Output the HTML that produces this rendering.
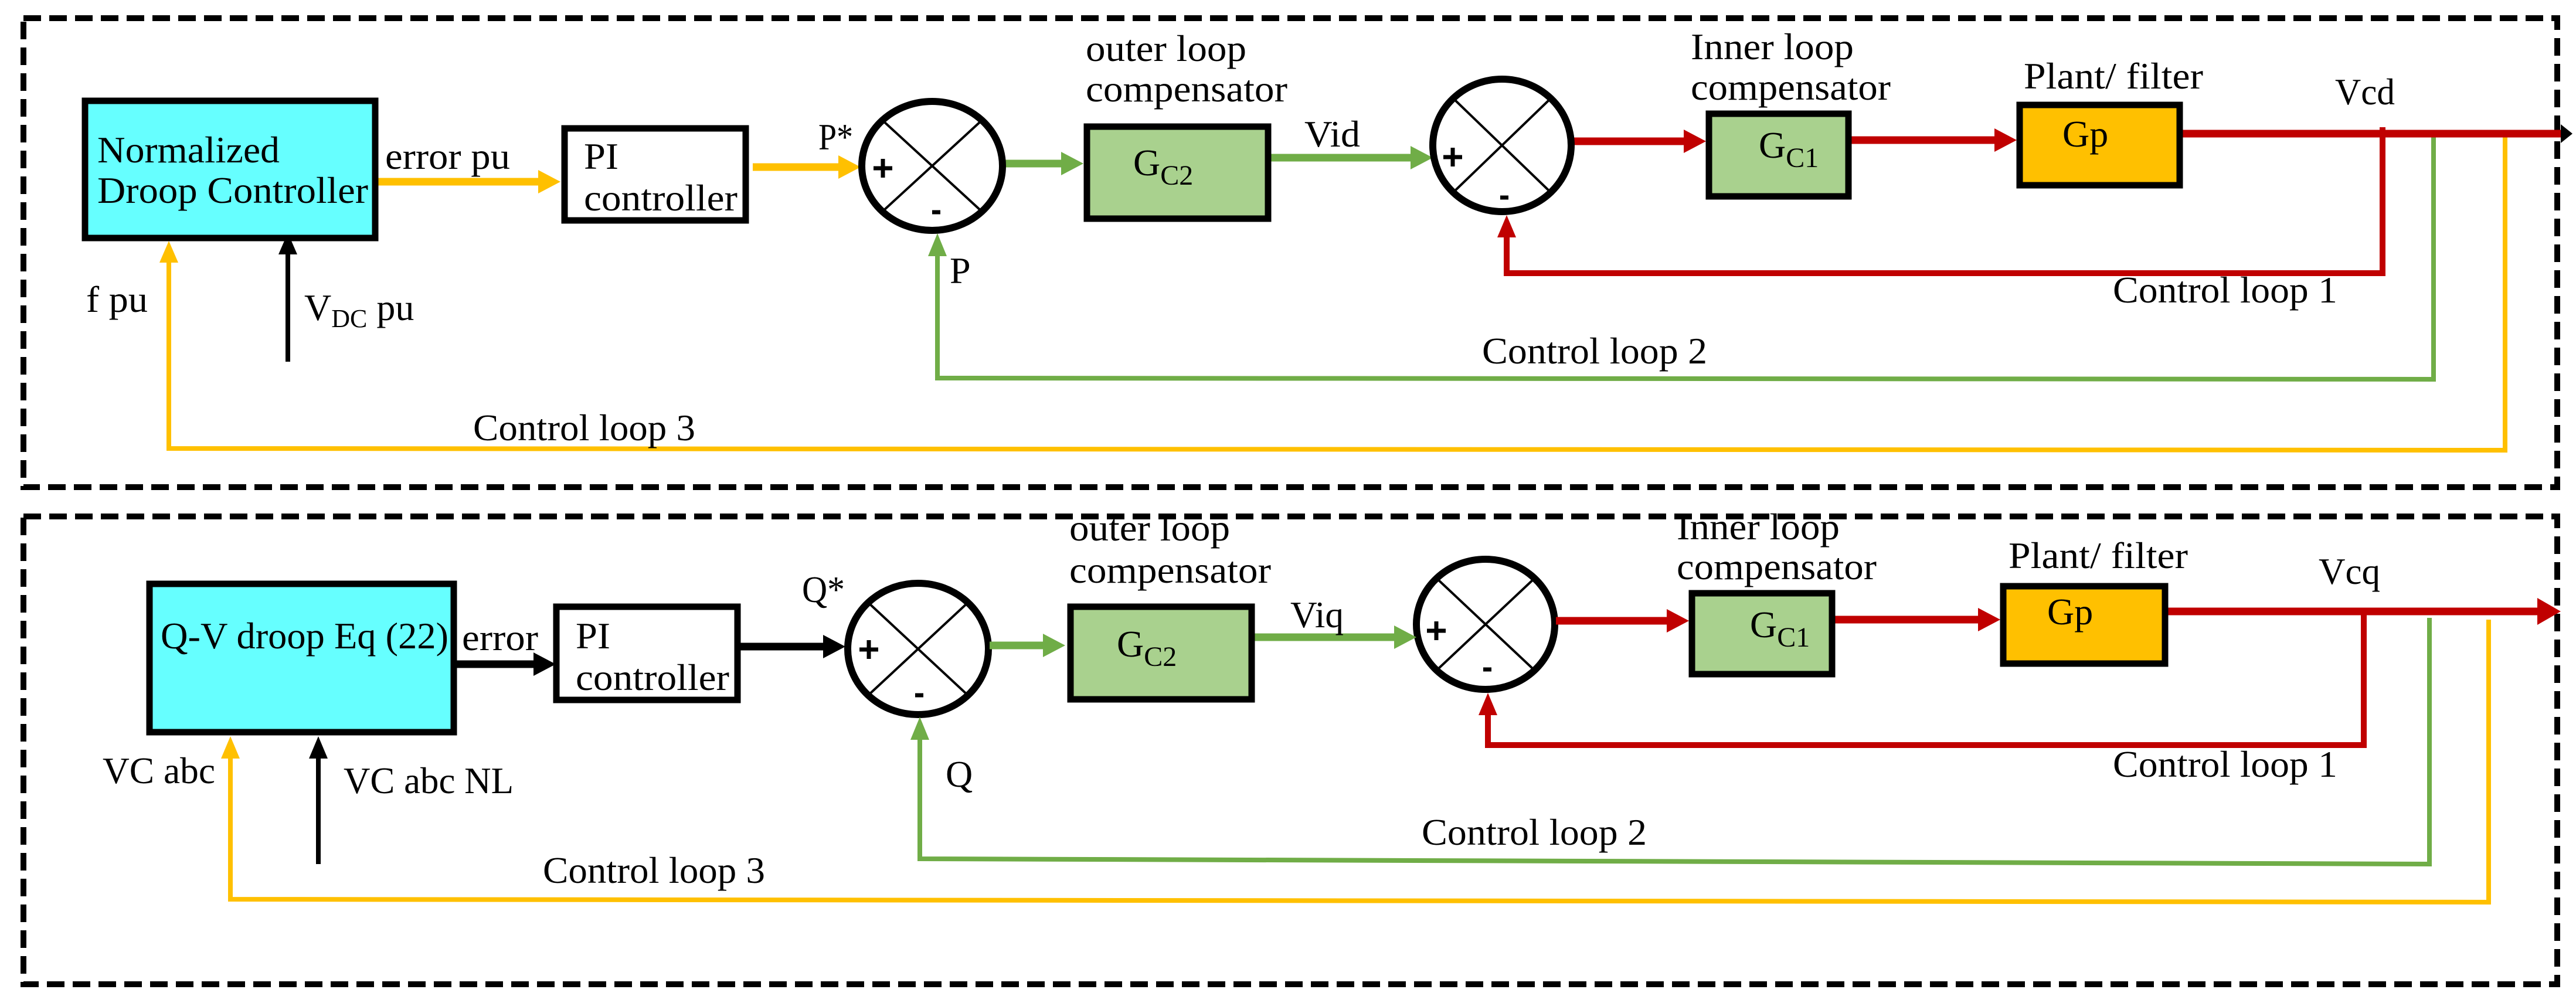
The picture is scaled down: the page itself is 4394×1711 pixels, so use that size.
<!DOCTYPE html>
<html><head><meta charset="utf-8"><style>html,body{margin:0;padding:0;background:#fff}svg{display:block}svg text{font-family:"Liberation Serif","DejaVu Serif","Times New Roman",serif;font-size:64px;fill:#000}</style></head>
<body>
<svg width="4394" height="1711" viewBox="0 0 4394 1711" xmlns="http://www.w3.org/2000/svg" font-family="Liberation Serif, DejaVu Serif, serif">
<g fill="none" stroke="#000" stroke-width="10" stroke-dasharray="30 14">
<rect x="40" y="31" width="4322" height="800"/>
<rect x="40" y="881" width="4322" height="798"/>
</g>

<g fill="none" stroke-linejoin="miter">
<polyline points="4064,217 4064,466 2570,466 2570,400" stroke="#C00000" stroke-width="10"/>
<polyline points="4151,228 4151,647 1599,645 1599,435" stroke="#70AD47" stroke-width="8"/>
<polyline points="4273,228 4273,768 288,765 288,440" stroke="#FFC000" stroke-width="8"/>
<line x1="491" y1="617" x2="491" y2="430" stroke="#000" stroke-width="8"/>
</g>
<polygon points="2570,367 2554,405 2586,405" fill="#C00000"/>
<polygon points="1599,398 1583,437 1615,437" fill="#70AD47"/>
<polygon points="288,411 272,448 304,448" fill="#FFC000"/>
<polygon points="491,397 475,434 507,434" fill="#000"/>

<line x1="645" y1="310" x2="920" y2="310" stroke="#FFC000" stroke-width="13"/>
<polygon points="956,310 918,290 918,330" fill="#FFC000"/>
<line x1="1284" y1="285" x2="1432" y2="285" stroke="#FFC000" stroke-width="13"/>
<polygon points="1468,285 1430,265 1430,305" fill="#FFC000"/>
<line x1="1712" y1="279" x2="1812" y2="279" stroke="#70AD47" stroke-width="13"/>
<polygon points="1848,279 1810,259 1810,299" fill="#70AD47"/>
<line x1="2168" y1="269" x2="2408" y2="269" stroke="#70AD47" stroke-width="13"/>
<polygon points="2444,269 2406,249 2406,289" fill="#70AD47"/>
<line x1="2682" y1="241" x2="2874" y2="241" stroke="#C00000" stroke-width="13"/>
<polygon points="2910,241 2872,221 2872,261" fill="#C00000"/>
<line x1="3158" y1="239" x2="3404" y2="239" stroke="#C00000" stroke-width="13"/>
<polygon points="3440,239 3402,219 3402,259" fill="#C00000"/>
<line x1="3723" y1="228" x2="4370" y2="228" stroke="#C00000" stroke-width="13"/>
<polygon points="4388,228 4368,212 4368,244" fill="#000"/>

<rect x="145" y="172" width="495" height="234" fill="#66FFFF" stroke="#000" stroke-width="11"/>
<rect x="963" y="219" width="309" height="157" fill="#fff" stroke="#000" stroke-width="11"/>
<rect x="1854" y="216" width="309" height="157" fill="#A9D18E" stroke="#000" stroke-width="11"/>
<rect x="2915" y="194" width="238" height="141" fill="#A9D18E" stroke="#000" stroke-width="11"/>
<rect x="3445" y="179" width="273" height="137" fill="#FFC000" stroke="#000" stroke-width="11"/>

<g fill="#fff" stroke="#000">
<ellipse cx="1590" cy="283" rx="120" ry="110" stroke-width="12"/>
<ellipse cx="2562" cy="248" rx="118" ry="113" stroke-width="12"/>
<ellipse cx="1566" cy="1107" rx="120" ry="112" stroke-width="12"/>
<ellipse cx="2534" cy="1065" rx="118" ry="111" stroke-width="12"/>
</g>
<g stroke="#000" stroke-width="4">
<line x1="1505" y1="205" x2="1675" y2="361"/><line x1="1675" y1="205" x2="1505" y2="361"/>
<line x1="2479" y1="168" x2="2645" y2="328"/><line x1="2645" y1="168" x2="2479" y2="328"/>
<line x1="1481" y1="1028" x2="1651" y2="1186"/><line x1="1651" y1="1028" x2="1481" y2="1186"/>
<line x1="2451" y1="987" x2="2617" y2="1143"/><line x1="2617" y1="987" x2="2451" y2="1143"/>
</g>
<!-- plus / minus signs as strokes -->
<g stroke="#000" stroke-width="7">
<line x1="1490" y1="287" x2="1522" y2="287"/><line x1="1506" y1="271" x2="1506" y2="303"/>
<line x1="1590" y1="362" x2="1604" y2="362"/>
<line x1="2462" y1="268" x2="2494" y2="268"/><line x1="2478" y1="252" x2="2478" y2="284"/>
<line x1="2559" y1="337" x2="2573" y2="337"/>
<line x1="1466" y1="1108" x2="1498" y2="1108"/><line x1="1482" y1="1092" x2="1482" y2="1124"/>
<line x1="1561" y1="1186" x2="1575" y2="1186"/>
<line x1="2434" y1="1076" x2="2466" y2="1076"/><line x1="2450" y1="1060" x2="2450" y2="1092"/>
<line x1="2530" y1="1142" x2="2544" y2="1142"/>
</g>

<text x="166" y="277" textLength="311" lengthAdjust="spacingAndGlyphs">Normalized</text>
<text x="166" y="346" textLength="462" lengthAdjust="spacingAndGlyphs">Droop Controller</text>
<text x="657" y="288" textLength="213" lengthAdjust="spacingAndGlyphs">error pu</text>
<text x="996" y="288" textLength="59" lengthAdjust="spacingAndGlyphs">PI</text>
<text x="996" y="359" textLength="262" lengthAdjust="spacingAndGlyphs">controller</text>
<text x="1396" y="255" textLength="59" lengthAdjust="spacingAndGlyphs">P*</text>
<text x="1852" y="104" textLength="274" lengthAdjust="spacingAndGlyphs">outer loop</text>
<text x="1852" y="173" textLength="344" lengthAdjust="spacingAndGlyphs">compensator</text>
<text x="1933" y="299" font-size="76">G<tspan font-size="48" dy="16">C2</tspan></text>
<text x="2225" y="250" textLength="95" lengthAdjust="spacingAndGlyphs">Vid</text>
<text x="2884" y="101" textLength="278" lengthAdjust="spacingAndGlyphs">Inner loop</text>
<text x="2884" y="170" textLength="341" lengthAdjust="spacingAndGlyphs">compensator</text>
<text x="3000" y="269" font-size="76">G<tspan font-size="48" dy="16">C1</tspan></text>
<text x="3452" y="151" textLength="306" lengthAdjust="spacingAndGlyphs">Plant/ filter</text>
<text x="3518" y="250" font-size="76">Gp</text>
<text x="3983" y="178" textLength="102" lengthAdjust="spacingAndGlyphs">Vcd</text>
<text x="1620" y="483">P</text>
<text x="519" y="546">V<tspan font-size="44" dy="12">DC</tspan><tspan dy="-12"> pu</tspan></text>
<text x="147" y="532" textLength="105" lengthAdjust="spacingAndGlyphs">f pu</text>
<text x="3604" y="516" textLength="383" lengthAdjust="spacingAndGlyphs">Control loop 1</text>
<text x="2528" y="620" textLength="384" lengthAdjust="spacingAndGlyphs">Control loop 2</text>
<text x="807" y="751" textLength="379" lengthAdjust="spacingAndGlyphs">Control loop 3</text>

<g fill="none">
<polyline points="4032,1043 4032,1271 2538,1271 2538,1215" stroke="#C00000" stroke-width="10"/>
<polyline points="4144,1054 4144,1474 1569,1465 1569,1258" stroke="#70AD47" stroke-width="8"/>
<polyline points="4245,1057 4245,1539 393,1534 393,1290" stroke="#FFC000" stroke-width="8"/>
<line x1="543" y1="1474" x2="543" y2="1290" stroke="#000" stroke-width="8"/>
</g>
<polygon points="2538,1182 2522,1220 2554,1220" fill="#C00000"/>
<polygon points="1569,1223 1553,1262 1585,1262" fill="#70AD47"/>
<polygon points="393,1256 377,1294 409,1294" fill="#FFC000"/>
<polygon points="543,1256 527,1294 559,1294" fill="#000"/>

<line x1="779" y1="1133" x2="912" y2="1133" stroke="#000" stroke-width="13"/>
<polygon points="948,1133 910,1113 910,1153" fill="#000"/>
<line x1="1263" y1="1103" x2="1406" y2="1103" stroke="#000" stroke-width="13"/>
<polygon points="1442,1103 1404,1083 1404,1123" fill="#000"/>
<line x1="1688" y1="1101" x2="1781" y2="1101" stroke="#70AD47" stroke-width="13"/>
<polygon points="1817,1101 1779,1081 1779,1121" fill="#70AD47"/>
<line x1="2140" y1="1087" x2="2380" y2="1087" stroke="#70AD47" stroke-width="13"/>
<polygon points="2416,1087 2378,1067 2378,1107" fill="#70AD47"/>
<line x1="2654" y1="1059" x2="2845" y2="1059" stroke="#C00000" stroke-width="13"/>
<polygon points="2881,1059 2843,1039 2843,1079" fill="#C00000"/>
<line x1="3130" y1="1057" x2="3376" y2="1057" stroke="#C00000" stroke-width="13"/>
<polygon points="3412,1057 3374,1037 3374,1077" fill="#C00000"/>
<line x1="3698" y1="1043" x2="4330" y2="1043" stroke="#C00000" stroke-width="13"/>
<polygon points="4368,1043 4328,1020 4328,1066" fill="#C00000"/>

<rect x="255" y="996" width="519" height="253" fill="#66FFFF" stroke="#000" stroke-width="11"/>
<rect x="949" y="1035" width="309" height="159" fill="#fff" stroke="#000" stroke-width="11"/>
<rect x="1826" y="1035" width="309" height="158" fill="#A9D18E" stroke="#000" stroke-width="11"/>
<rect x="2886" y="1012" width="239" height="138" fill="#A9D18E" stroke="#000" stroke-width="11"/>
<rect x="3417" y="1000" width="276" height="132" fill="#FFC000" stroke="#000" stroke-width="11"/>

<text x="274" y="1106" textLength="491" lengthAdjust="spacingAndGlyphs">Q-V droop Eq (22)</text>
<text x="788" y="1109" textLength="130" lengthAdjust="spacingAndGlyphs">error</text>
<text x="982" y="1106" textLength="59" lengthAdjust="spacingAndGlyphs">PI</text>
<text x="982" y="1177" textLength="262" lengthAdjust="spacingAndGlyphs">controller</text>
<text x="1368" y="1027" textLength="73" lengthAdjust="spacingAndGlyphs">Q*</text>
<text x="1824" y="922" textLength="274" lengthAdjust="spacingAndGlyphs">outer loop</text>
<text x="1824" y="994" textLength="344" lengthAdjust="spacingAndGlyphs">compensator</text>
<text x="1905" y="1120" font-size="76">G<tspan font-size="48" dy="16">C2</tspan></text>
<text x="2201" y="1070" textLength="91" lengthAdjust="spacingAndGlyphs">Viq</text>
<text x="2860" y="920" textLength="278" lengthAdjust="spacingAndGlyphs">Inner loop</text>
<text x="2860" y="988" textLength="341" lengthAdjust="spacingAndGlyphs">compensator</text>
<text x="2985" y="1087" font-size="76">G<tspan font-size="48" dy="16">C1</tspan></text>
<text x="3426" y="969" textLength="306" lengthAdjust="spacingAndGlyphs">Plant/ filter</text>
<text x="3492" y="1065" font-size="76">Gp</text>
<text x="3955" y="996" textLength="105" lengthAdjust="spacingAndGlyphs">Vcq</text>
<text x="1613" y="1342">Q</text>
<text x="175" y="1336" textLength="192" lengthAdjust="spacingAndGlyphs">VC abc</text>
<text x="586" y="1353" textLength="290" lengthAdjust="spacingAndGlyphs">VC abc NL</text>
<text x="3604" y="1325" textLength="383" lengthAdjust="spacingAndGlyphs">Control loop 1</text>
<text x="2425" y="1441" textLength="384" lengthAdjust="spacingAndGlyphs">Control loop 2</text>
<text x="926" y="1506" textLength="379" lengthAdjust="spacingAndGlyphs">Control loop 3</text>
</svg>
</body></html>
